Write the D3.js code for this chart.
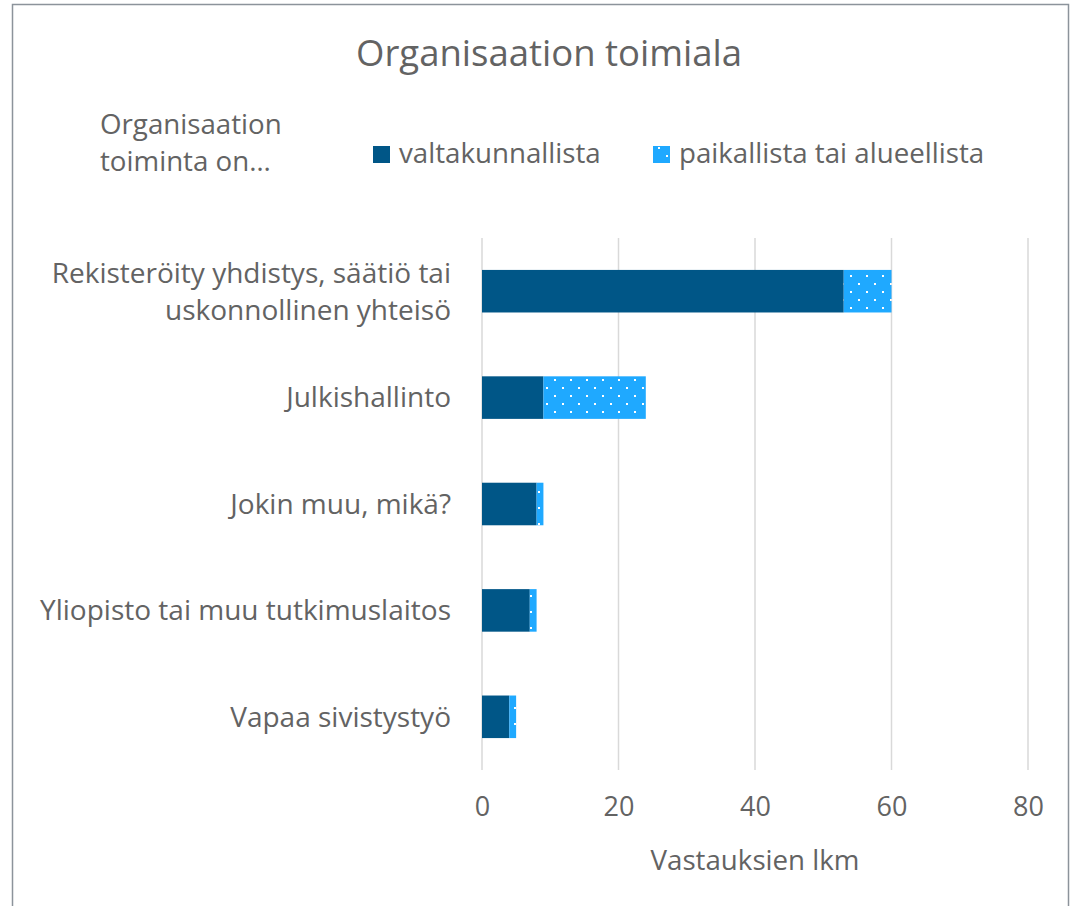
<!DOCTYPE html>
<html>
<head>
<meta charset="utf-8">
<script src="https://cdn.jsdelivr.net/npm/d3@7"></script>
<style>
  body { margin: 0; background: #fff; }
  text { font-family: "Open Sans", sans-serif; fill: #636363; }
</style>
</head>
<body>
<div id="chart"></div>
<script>
const categories = [
    "Rekisteröity yhdistys, säätiö tai uskonnollinen yhteisö",
    "Julkishallinto",
    "Jokin muu, mikä?",
    "Yliopisto tai muu tutkimuslaitos",
    "Vapaa sivistystyö"
];
const categoryLines = [
    ["Rekisteröity yhdistys, säätiö tai", "uskonnollinen yhteisö"],
    ["Julkishallinto"],
    ["Jokin muu, mikä?"],
    ["Yliopisto tai muu tutkimuslaitos"],
    ["Vapaa sivistystyö"]
];
const seriesNames = ["valtakunnallista", "paikallista tai alueellista"];
const valtakunnallista = [53, 9, 8, 7, 4];
const paikallista = [7, 15, 1, 1, 1];
const xTicks = [0, 20, 40, 60, 80];

const width = 1081, height = 906;
const margin = { top: 238, right: 53, bottom: 136, left: 482 };

const svg = d3.select("#chart")
    .append("svg")
    .attr("width", width)
    .attr("height", height);

const defs = svg.append("defs");
const pattern = defs.append("pattern")
    .attr("id", "dots")
    .attr("patternUnits", "userSpaceOnUse")
    .attr("width", 16)
    .attr("height", 16);
pattern.append("rect").attr("width", 16).attr("height", 16).attr("fill", "#1fa9ff");
pattern.append("rect").attr("x", 2).attr("y", 3).attr("width", 2).attr("height", 2).attr("fill", "#fff");
pattern.append("rect").attr("x", 10).attr("y", 11).attr("width", 2).attr("height", 2).attr("fill", "#fff");

// outer frame
svg.append("rect")
    .attr("x", 12.5).attr("y", 4.5)
    .attr("width", 1056).attr("height", 920)
    .attr("fill", "none")
    .attr("stroke", "#8c939b")
    .attr("stroke-width", 1.5);

const x = d3.scaleLinear()
    .domain([0, 80])
    .range([margin.left, width - margin.right]);

const y = d3.scaleBand()
    .domain(categories)
    .range([margin.top, height - margin.bottom])
    .paddingInner(0.6)
    .paddingOuter(0.3);

// gridlines
svg.append("g")
    .selectAll("line")
    .data(xTicks)
    .enter()
    .append("line")
    .attr("x1", d => x(d))
    .attr("x2", d => x(d))
    .attr("y1", margin.top)
    .attr("y2", height - margin.bottom)
    .attr("stroke", "#d9d9d9")
    .attr("stroke-width", 1.5);

const stackData = categories.map((c, i) => ({ cat: c, v: valtakunnallista[i], p: paikallista[i] }));

svg.selectAll("rect.valt")
    .data(stackData)
    .enter()
    .append("rect")
    .attr("class", "valt")
    .attr("x", x(0))
    .attr("y", d => y(d.cat))
    .attr("width", d => x(d.v) - x(0))
    .attr("height", y.bandwidth())
    .attr("fill", "#005687");

svg.selectAll("rect.paik")
    .data(stackData)
    .enter()
    .append("rect")
    .attr("class", "paik")
    .attr("x", d => x(d.v))
    .attr("y", d => y(d.cat))
    .attr("width", d => x(d.v + d.p) - x(d.v))
    .attr("height", y.bandwidth())
    .attr("fill", "url(#dots)");

// category labels
const labels = svg.append("g");
categories.forEach((c, i) => {
    const lines = categoryLines[i];
    const cy = y(c) + y.bandwidth() / 2;
    lines.forEach((l, j) => {
        labels.append("text")
            .attr("x", 451)
            .attr("y", cy + (j - (lines.length - 1) / 2) * 37)
            .attr("dy", "0.35em")
            .attr("text-anchor", "end")
            .attr("font-size", "28px")
            .text(l);
    });
});

// x axis
const xAxis = svg.append("g")
    .attr("transform", `translate(0, ${height - margin.bottom})`)
    .call(d3.axisBottom(x).tickValues(xTicks).tickSize(0).tickPadding(27));
xAxis.select(".domain").remove();
xAxis.selectAll("text")
    .attr("font-size", "27px")
    .attr("fill", "#636363")
    .style("font-family", "'Open Sans', sans-serif");

svg.append("text")
    .attr("x", (x(0) + x(80)) / 2)
    .attr("y", 860)
    .attr("dy", "0.35em")
    .attr("text-anchor", "middle")
    .attr("font-size", "27.7px")
    .text("Vastauksien lkm");

// title
svg.append("text")
    .attr("x", 549)
    .attr("y", 53)
    .attr("dy", "0.35em")
    .attr("text-anchor", "middle")
    .attr("font-size", "36.5px")
    .text("Organisaation toimiala");

// legend
svg.append("text").attr("x", 100).attr("y", 124).attr("dy", "0.35em")
    .attr("font-size", "27.7px").text("Organisaation");
svg.append("text").attr("x", 100).attr("y", 161).attr("dy", "0.35em")
    .attr("font-size", "27.7px").text("toiminta on…");

const legendItems = [
    { name: seriesNames[0], fill: "#005687", x: 373 },
    { name: seriesNames[1], fill: "url(#dots)", x: 653 }
];
const legend = svg.append("g");
legend.selectAll("rect")
    .data(legendItems)
    .enter()
    .append("rect")
    .attr("x", d => d.x)
    .attr("y", 146)
    .attr("width", 17)
    .attr("height", 17)
    .attr("fill", d => d.fill);
legend.selectAll("text")
    .data(legendItems)
    .enter()
    .append("text")
    .attr("x", d => d.x + 26)
    .attr("y", 153)
    .attr("dy", "0.35em")
    .attr("font-size", "27.7px")
    .text(d => d.name);
</script>
</body>
</html>
